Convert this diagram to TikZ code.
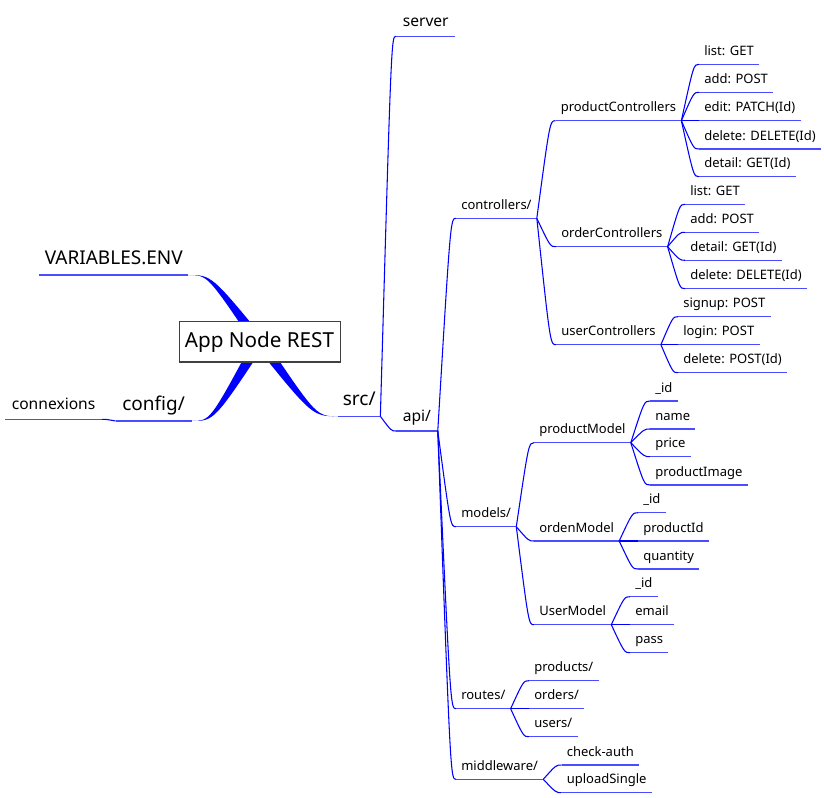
\documentclass[tikz,border=0pt]{standalone}
\usepackage{fontspec}
\setmainfont{Noto Sans}
\usetikzlibrary{calc}
\begin{document}
\begin{tikzpicture}[x=0.75pt,y=-0.75pt,
  base/.style={text depth=0pt, anchor=south west, inner xsep=3.75pt, inner ysep=6.4pt, font=\fontsize{9.75}{11}\selectfont},
  leaf/.style={base},
  lvtwo/.style={base, font=\fontsize{11.7}{13}\selectfont, inner xsep=4.9pt, inner ysep=7.2pt},
  lvone/.style={base, font=\fontsize{14.25}{16}\selectfont, inner ysep=7.9pt},
  uline/.style={draw=blue!70, line width=0.85pt},
  link/.style={draw=blue, line width=0.8pt, to path={let \p1=(\tikztostart), \p2=(\tikztotarget) in .. controls ({0.3*\x1+0.7*\x2},\y2) and ({0.3*\x1+0.7*\x2},\y2) .. (\tikztotarget)}},
  band/.style={fill=blue, to path={let \p1=(\tikztostart), \p2=(\tikztotarget) in ({\x1-5.25pt},\y1) .. controls ({0.3*\x1-1.575pt+0.7*\x2},\y2) and ({0.3*\x1-1.575pt+0.7*\x2},\y2) .. (\p2) .. controls ({0.3*\x1+1.575pt+0.7*\x2},\y2) and ({0.3*\x1+1.575pt+0.7*\x2},\y2) .. ({\x1+5.25pt},\y1) -- cycle}},
  rootbox/.style={draw=black!75, fill=white, line width=0.75pt, minimum width=120.75pt, minimum height=30pt, inner sep=0pt, font=\fontsize{15.5}{18}\selectfont}
]
\useasboundingbox (0,0) rectangle (824,798);
\coordinate (rootc) at (259.5,342);
% level 1
\node[lvone, anchor=south east] (venv) at (188,275) {VARIABLES.ENV};
\node[lvone, anchor=south east, inner xsep=4.9pt] (config) at (191.7,421) {config/};
\node[lvtwo] (conn) at (5,419.3) {connexions};
\node[lvone, inner xsep=3.4pt] (src) at (338,416.3) {src/};
% level 2
\node[lvtwo] (server) at (396,36.3) {server};
\node[lvtwo] (api) at (396,431) {api/};
% level 3
\node[leaf] (ctrl) at (456,218.3) {controllers/};
\node[leaf] (models) at (456,526.7) {models/};
\node[leaf] (routes) at (456,708.7) {routes/};
\node[leaf] (mw) at (456,779.3) {middleware/};
% controllers
\node[leaf] (pc) at (555.5,120.7) {productControllers};
\node[leaf] (oc) at (556,246.7) {orderControllers};
\node[leaf] (uc) at (556,344.7) {userControllers};
\node[leaf] (pca) at (699,64.3) {list: GET};
\node[leaf] (pcb) at (699,92.3) {add: POST};
\node[leaf] (pcc) at (699,120.7) {edit: PATCH(Id)};
\node[leaf] (pcd) at (699,149) {delete: DELETE(Id)};
\node[leaf] (pce) at (699,176.7) {detail: GET(Id)};
\node[leaf] (oca) at (685,204.3) {list: GET};
\node[leaf] (ocb) at (685,232.3) {add: POST};
\node[leaf] (occ) at (685,260.3) {detail: GET(Id)};
\node[leaf] (ocd) at (685,288.7) {delete: DELETE(Id)};
\node[leaf] (uca) at (678,316.7) {signup: POST};
\node[leaf] (ucb) at (678,344.7) {login: POST};
\node[leaf] (ucc) at (678,372.7) {delete: POST(Id)};
% models
\node[leaf] (pm) at (534,442.7) {productModel};
\node[leaf] (om) at (534,541) {ordenModel};
\node[leaf] (um) at (534,624.7) {UserModel};
\node[leaf] (pma) at (650,401) {\_id};
\node[leaf] (pmb) at (650,429) {name};
\node[leaf] (pmc) at (650,456.7) {price};
\node[leaf] (pmd) at (650,485) {productImage};
\node[leaf] (oma) at (638,512.7) {\_id};
\node[leaf] (omb) at (638,541) {productId};
\node[leaf] (omc) at (638,569) {quantity};
\node[leaf] (uma) at (630,596.7) {\_id};
\node[leaf] (umb) at (630,624.7) {email};
\node[leaf] (umc) at (630,652.7) {pass};
% routes
\node[leaf] (ra) at (529,680.7) {products/};
\node[leaf] (rb) at (529,708.7) {orders/};
\node[leaf] (rc) at (529,736.7) {users/};
% middleware
\node[leaf] (mwa) at (561.5,765) {check-auth};
\node[leaf] (mwb) at (561.5,792.7) {uploadSingle};
% underlines
\foreach \n in {venv,config,conn,src,server,api,ctrl,models,routes,mw,pc,oc,uc,pca,pcb,pcc,pcd,pce,oca,ocb,occ,ocd,uca,ucb,ucc,pm,om,um,pma,pmb,pmc,pmd,oma,omb,omc,uma,umb,umc,ra,rb,rc,mwa,mwb}
  \draw[uline] (\n.south west) -- (\n.south east);
% connectors
\foreach \a/\b in {src/server,src/api,api/ctrl,api/models,api/routes,api/mw,ctrl/pc,ctrl/oc,ctrl/uc,pc/pca,pc/pcb,pc/pcc,pc/pcd,pc/pce,oc/oca,oc/ocb,oc/occ,oc/ocd,uc/uca,uc/ucb,uc/ucc,models/pm,models/om,models/um,pm/pma,pm/pmb,pm/pmc,pm/pmd,om/oma,om/omb,om/omc,um/uma,um/umb,um/umc,routes/ra,routes/rb,routes/rc,mw/mwa,mw/mwb}
  \draw[link] (\a.south east) to (\b.south west);
\draw[link] (config.south west) to (conn.south east);
% thick bands from the root
\fill[band] (rootc) to (venv.south east);
\fill[band] (rootc) to (config.south east);
\fill[band] (rootc) to (src.south west);
% root
\node[rootbox] (root) at (rootc) {App Node REST};
\end{tikzpicture}
\end{document}
